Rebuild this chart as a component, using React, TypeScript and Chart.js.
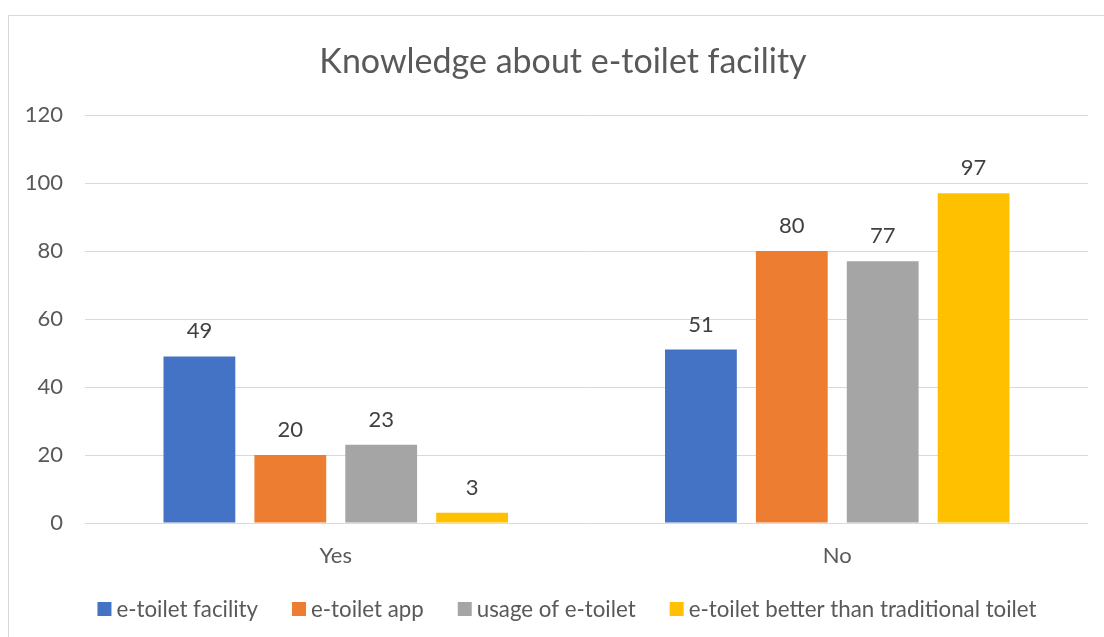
import React, { useEffect, useRef } from "react";
import { Chart, registerables } from "chart.js";

Chart.register(...registerables);

const titleText = "Knowledge about e-toilet facility";
const categories = ["Yes", "No"];
const seriesNames = [
  "e-toilet facility",
  "e-toilet app",
  "usage of e-toilet",
  "e-toilet better than traditional toilet",
];
const facility = [49, 51];
const app = [20, 80];
const usage = [23, 77];
const better = [3, 97];
const seriesColors = ["#4472C4", "#ED7D31", "#A5A5A5", "#FFC000"];
const yTicks = [0, 20, 40, 60, 80, 100, 120];

const FONT = "Lato, 'Open Sans', sans-serif";

const valueLabels = {
  id: "valueLabels",
  afterDatasetsDraw(chart: any) {
    const ctx = chart.ctx;
    ctx.save();
    ctx.font = `22px ${FONT}`;
    ctx.fillStyle = "#404040";
    ctx.textAlign = "center";
    ctx.textBaseline = "alphabetic";
    chart.data.datasets.forEach((ds: any, i: number) => {
      const meta = chart.getDatasetMeta(i);
      meta.data.forEach((bar: any, j: number) => {
        ctx.fillText(String(ds.data[j]), bar.x, bar.y - 18);
      });
    });
    ctx.restore();
  },
};

const titleAndLegend = {
  id: "titleAndLegend",
  afterDraw(chart: any) {
    const ctx = chart.ctx;
    ctx.save();
    // title
    ctx.font = `34px ${FONT}`;
    ctx.fillStyle = "#595959";
    ctx.textAlign = "center";
    ctx.textBaseline = "middle";
    ctx.fillText(titleText, chart.width / 2, 46);
    // legend
    ctx.font = `22.3px ${FONT}`;
    const box = 14;
    const gapBoxText = 5;
    const gapItems = 34;
    const widths = chart.data.datasets.map((ds: any) => ctx.measureText(ds.label).width);
    const total =
      widths.reduce((a: number, w: number) => a + box + gapBoxText + w, 0) +
      gapItems * (widths.length - 1);
    let x = chart.width / 2 + 4 - total / 2;
    const cy = 593;
    ctx.textAlign = "left";
    chart.data.datasets.forEach((ds: any, i: number) => {
      ctx.fillStyle = ds.backgroundColor;
      ctx.fillRect(x, cy - box / 2, box, box);
      x += box + gapBoxText;
      ctx.fillStyle = "#595959";
      ctx.fillText(ds.label, x, cy + 1);
      x += widths[i] + gapItems;
    });
    ctx.restore();
  },
};

export default function App() {
  const ref = useRef<HTMLCanvasElement>(null);
  useEffect(() => {
    document.body.style.margin = "0";
    document.body.style.overflow = "hidden";
    const all = [facility, app, usage, better];
    const chart = new Chart(ref.current!, {
      type: "bar",
      data: {
        labels: categories,
        datasets: all.map((d, i) => ({
          label: seriesNames[i],
          data: d,
          backgroundColor: seriesColors[i],
          borderWidth: 0,
          categoryPercentage: 0.725,
          barPercentage: 0.79,
        })),
      },
      options: {
        animation: false,
        responsive: false,
        maintainAspectRatio: false,
        layout: { padding: { left: 0, right: 29, top: 99, bottom: 71 } },
        plugins: {
          title: { display: false },
          legend: { display: false },
          tooltip: { enabled: false },
        },
        scales: {
          x: {
            grid: { display: false },
            border: { display: false },
            ticks: { color: "#595959", font: { family: FONT, size: 22 }, padding: 12 },
            afterFit(scale: any) {
              scale.height = 60;
            },
          },
          y: {
            min: 0,
            max: 120,
            afterBuildTicks(scale: any) {
              scale.ticks = yTicks.map((v) => ({ value: v }));
            },
            grid: { color: "#D9D9D9", lineWidth: 1, drawTicks: false },
            border: { display: false },
            ticks: { color: "#595959", font: { family: FONT, size: 22 }, padding: 22 },
            afterFit(scale: any) {
              scale.width = 76;
            },
          },
        },
      },
      plugins: [valueLabels, titleAndLegend],
    });
    return () => chart.destroy();
  }, []);
  return (
    <div
      style={{
        position: "fixed",
        left: 8,
        top: 15,
        width: 1110,
        height: 640,
        border: "1px solid #D9D9D9",
        boxSizing: "border-box",
        background: "#fff",
        overflow: "hidden",
      }}
    >
      <canvas ref={ref} width={1108} height={638} style={{ display: "block" }} />
    </div>
  );
}
